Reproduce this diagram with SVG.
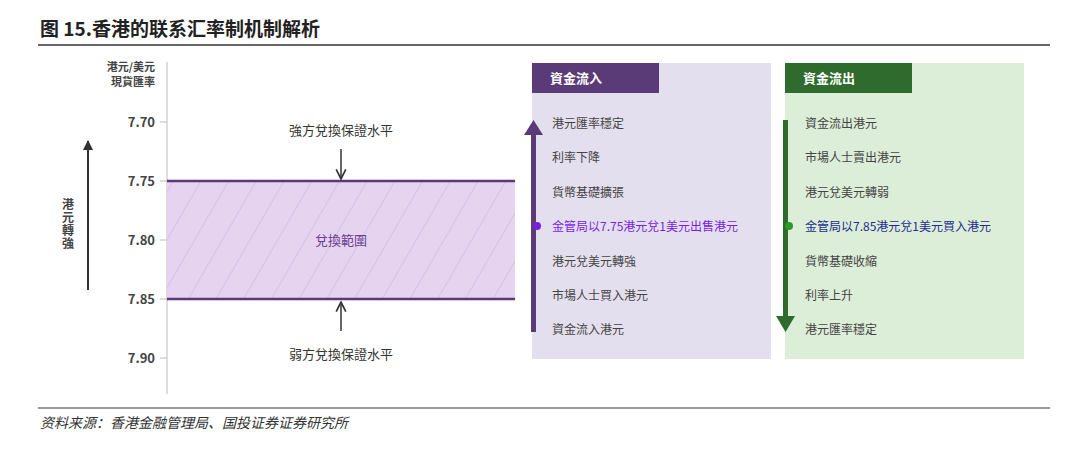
<svg xmlns="http://www.w3.org/2000/svg" width="1080" height="449" viewBox="0 0 1080 449">
<defs>
<style>
text{font-family:"Noto Sans CJK SC","Noto Sans CJK TC",sans-serif}
.t{font-size:13px;fill:#333}
.tk{font-size:13px;fill:#444;text-anchor:end;font-weight:bold}
.it{font-size:12px;fill:#444}
.hd{font-size:13px;fill:#fff;font-weight:bold}
</style>
<pattern id="h" width="24" height="24" patternUnits="userSpaceOnUse" patternTransform="rotate(30)">
<rect width="24" height="24" fill="#e6d3f0"/>
<line x1="0" y1="0" x2="0" y2="24" stroke="#c9aee0" stroke-width="1"/>
</pattern>
<marker id="ab" viewBox="0 0 10 10" refX="9" refY="5" markerWidth="8" markerHeight="8" orient="auto"><path d="M1,1 L9,5 L1,9" fill="none" stroke="#333" stroke-width="1.4"/></marker>
<marker id="af" viewBox="0 0 10 10" refX="9" refY="5" markerWidth="5" markerHeight="5" orient="auto"><path d="M0,0 L10,5 L0,10 z" fill="#333"/></marker>
</defs>
<rect width="1080" height="449" fill="#fff"/>
<text x="40" y="36" style="font-size:19px;font-weight:bold;fill:#222">图 15.香港的联系汇率制机制解析</text>
<line x1="38" y1="45" x2="1050" y2="45" stroke="#333" stroke-width="1.5"/>
<line x1="38" y1="408" x2="1050" y2="408" stroke="#333" stroke-width="1"/>
<text x="40" y="428" style="font-size:14px;font-style:italic;fill:#333">资料来源：香港金融管理局、国投证券证券研究所</text>

<g id="axis">
<line x1="167" y1="62" x2="167" y2="394" stroke="#bbb"/>
<text x="155" y="71" class="tk" style="font-size:11px">港元/美元</text>
<text x="155" y="86" class="tk" style="font-size:11px">現貨匯率</text>
<g stroke="#bbb"><line x1="160" y1="122" x2="167" y2="122"/><line x1="160" y1="181" x2="167" y2="181"/><line x1="160" y1="240" x2="167" y2="240"/><line x1="160" y1="299" x2="167" y2="299"/><line x1="160" y1="358" x2="167" y2="358"/></g>
<text x="155" y="127" class="tk">7.70</text>
<text x="155" y="186" class="tk">7.75</text>
<text x="155" y="245" class="tk">7.80</text>
<text x="155" y="304" class="tk">7.85</text>
<text x="155" y="363" class="tk">7.90</text>
</g>
<g id="strong-arrow">
<line x1="88" y1="290" x2="88" y2="141" stroke="#333" stroke-width="2" marker-end="url(#af)"/>
<text x="68" y="198" style="font-size:12px;font-weight:bold;fill:#444;writing-mode:vertical-rl;letter-spacing:1px">港元轉強</text>
</g>
<g id="band">
<rect x="167" y="181" width="348" height="118" fill="url(#h)"/>
<line x1="167" y1="181" x2="515" y2="181" stroke="#5a3a78" stroke-width="2.5"/>
<line x1="167" y1="299" x2="515" y2="299" stroke="#5a3a78" stroke-width="2.5"/>
<text x="341" y="245" text-anchor="middle" style="font-size:13px;fill:#6b3f8f">兌換範圍</text>
</g>
<g id="connectors">
<line x1="341" y1="149" x2="341" y2="179" stroke="#333" stroke-width="1.5" marker-end="url(#ab)"/>
<line x1="341" y1="331" x2="341" y2="302" stroke="#333" stroke-width="1.5" marker-end="url(#ab)"/>
</g>
<text x="341" y="135" text-anchor="middle" class="t">強方兌換保證水平</text>
<text x="341" y="359" text-anchor="middle" class="t">弱方兌換保證水平</text>

<g id="inflow">
<rect x="532" y="63" width="239" height="296" fill="#e4dfee"/>
<rect x="532" y="63" width="127" height="30" fill="#5b3a78"/>
<text x="550" y="83" class="hd">資金流入</text>
<rect x="531" y="134" width="5" height="198" fill="#5b3a78"/>
<polygon points="524,135 543,135 533.5,120" fill="#5b3a78"/>
<circle cx="537" cy="226" r="4" fill="#7a1fe0"/>
<text x="552" y="128" class="it">港元匯率穩定</text>
<text x="552" y="162" class="it">利率下降</text>
<text x="552" y="197" class="it">貨幣基礎擴張</text>
<text x="552" y="231" class="it" style="fill:#7a1fe0">金管局以7.75港元兌1美元出售港元</text>
<text x="552" y="266" class="it">港元兌美元轉強</text>
<text x="552" y="300" class="it">市場人士買入港元</text>
<text x="552" y="334" class="it">資金流入港元</text>
</g>
<g id="outflow">
<rect x="785" y="63" width="239" height="296" fill="#dcedd8"/>
<rect x="785" y="63" width="127" height="30" fill="#2f6b2c"/>
<text x="803" y="83" class="hd">資金流出</text>
<rect x="783" y="120" width="5" height="198" fill="#2f6b2c"/>
<polygon points="776,316 795,316 785.5,332" fill="#2f6b2c"/>
<circle cx="789" cy="226" r="4" fill="#2a9a2a"/>
<text x="805" y="128" class="it">資金流出港元</text>
<text x="805" y="162" class="it">市場人士賣出港元</text>
<text x="805" y="197" class="it">港元兌美元轉弱</text>
<text x="805" y="231" class="it" style="fill:#1f2e8f">金管局以7.85港元兌1美元買入港元</text>
<text x="805" y="266" class="it">貨幣基礎收縮</text>
<text x="805" y="300" class="it">利率上升</text>
<text x="805" y="334" class="it">港元匯率穩定</text>
</g>
</svg>
